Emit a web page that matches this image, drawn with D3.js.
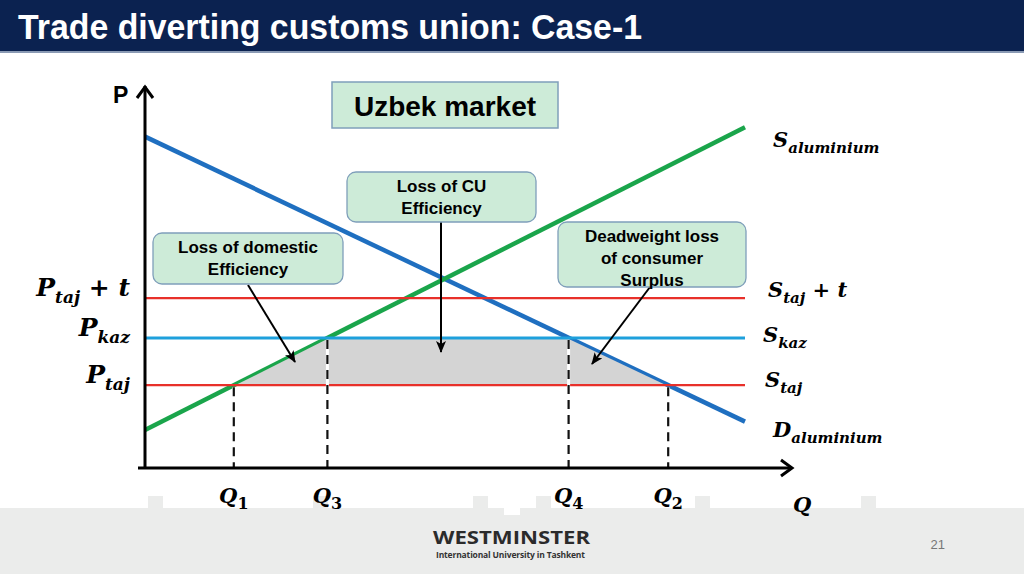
<!DOCTYPE html>
<html>
<head>
<meta charset="utf-8">
<script src="https://cdn.jsdelivr.net/npm/d3@7"></script>
<style>
  body { margin: 0; background: #fff; }
  svg { display: block; }
</style>
</head>
<body>
<svg id="chart" width="1024" height="574"></svg>
<script>
// chart values (price / quantity units)
const demandLine = [[0, 87.2], [100, 12.2]];
const supplyLine = [[0, 10], [100, 89.7]];
const priceLevels = [
  { id: "tajT", p: 44.7, color: "#e8302a", width: 2.2 },
  { id: "kaz", p: 34.2, color: "#1ea0dc", width: 3 },
  { id: "taj", p: 21.8, color: "#e8302a", width: 2.2 },
];
const qMarks = [
  { sub: "1", q: 14.8, p: 21.8 },
  { sub: "3", q: 30.4, p: 34.2 },
  { sub: "4", q: 70.6, p: 34.2 },
  { sub: "2", q: 87.2, p: 21.8 },
];
const lossArea = [[14.8, 21.8], [30.4, 34.2], [70.6, 34.2], [87.2, 21.8]];
const leftLabels = [
  { main: "P", sub: "taj", extra: " + t", p: 44.7 },
  { main: "P", sub: "kaz", extra: "", p: 34.2 },
  { main: "P", sub: "taj", extra: "", p: 21.8 },
];
const rightLabels = [
  { main: "S", sub: "aluminium", extra: "", x: 773, y: 147 },
  { main: "S", sub: "taj", extra: " + t", x: 768, y: 297 },
  { main: "S", sub: "kaz", extra: "", x: 763, y: 342 },
  { main: "S", sub: "taj", extra: "", x: 765, y: 387 },
  { main: "D", sub: "aluminium", extra: "", x: 773, y: 437 },
];
const boxes = [
  { lines: ["Loss of CU", "Efficiency"], x: 347, y: 172, w: 189, h: 50 },
  { lines: ["Loss of domestic", "Efficiency"], x: 153, y: 233, w: 190, h: 51 },
  { lines: ["Deadweight loss", "of consumer", "Surplus"], x: 558, y: 222, w: 188, h: 65 },
];
const arrows = [
  [[248, 285], [295, 362]],
  [[441, 222], [441, 352]],
  [[650, 287], [592, 364]],
];

const svg = d3.select("#chart");
const x = d3.scaleLinear().domain([0, 100]).range([145, 745]);
const y = d3.scaleLinear().domain([0, 100]).range([468, 88]);
const mathFont = "'DejaVu Serif', serif";

// background: title bar and footer band
svg.append("rect").attr("width", 1024).attr("height", 51).attr("fill", "#0b2250");
svg.append("rect").attr("y", 51).attr("width", 1024).attr("height", 2).attr("fill", "#8a9ab4");
svg.append("text")
  .attr("x", 18).attr("y", 39)
  .attr("fill", "#fff")
  .attr("font-family", "'Liberation Sans', Arial, sans-serif")
  .attr("font-weight", "bold")
  .attr("font-size", 35)
  .attr("textLength", 624)
  .attr("lengthAdjust", "spacingAndGlyphs")
  .text("Trade diverting customs union: Case-1");

const footer = svg.append("g").attr("fill", "#ebeceb");
footer.append("rect").attr("y", 508).attr("width", 1024).attr("height", 66);
[148, 313, 473, 536, 695, 861].forEach((tx) => {
  footer.append("rect").attr("x", tx).attr("y", 496).attr("width", 15).attr("height", 12);
});
svg.append("rect").attr("x", 504).attr("y", 508).attr("width", 16).attr("height", 7).attr("fill", "#fff");
svg.append("text")
  .attr("x", 433).attr("y", 544)
  .attr("fill", "#2b2b2b")
  .attr("font-family", "'Open Sans', sans-serif")
  .attr("font-weight", "bold")
  .attr("font-size", 18)
  .attr("textLength", 157)
  .attr("lengthAdjust", "spacingAndGlyphs")
  .text("WESTMINSTER");
svg.append("text")
  .attr("x", 436).attr("y", 558)
  .attr("fill", "#333")
  .attr("font-family", "'Open Sans', sans-serif")
  .attr("font-weight", "bold")
  .attr("font-size", 8.5)
  .attr("textLength", 149)
  .text("International University in Tashkent");
svg.append("text")
  .attr("x", 945).attr("y", 549)
  .attr("text-anchor", "end")
  .attr("fill", "#777")
  .attr("font-family", "'Liberation Sans', Arial, sans-serif")
  .attr("font-size", 13)
  .text("21");

const defs = svg.append("defs");
defs.append("marker")
  .attr("id", "head")
  .attr("viewBox", "0 0 12 10")
  .attr("refX", 11).attr("refY", 5)
  .attr("markerWidth", 12).attr("markerHeight", 10)
  .attr("markerUnits", "userSpaceOnUse")
  .attr("orient", "auto")
  .append("path")
  .attr("d", "M0,0 L12,5 L0,10 L3,5 Z")
  .attr("fill", "#000");

const line = d3.line().x((d) => x(d[0])).y((d) => y(d[1]));

// demand and supply curves
svg.append("path").datum(demandLine).attr("d", line)
  .attr("stroke", "#1f6fc0").attr("stroke-width", 4.5).attr("fill", "none");
svg.append("path").datum(supplyLine).attr("d", line)
  .attr("stroke", "#1aa54b").attr("stroke-width", 4.5).attr("fill", "none");

// welfare loss area, thin curve segments drawn over it
svg.append("path")
  .attr("d", line(lossArea) + "Z")
  .attr("fill", "#d4d4d4").attr("stroke", "none");
svg.append("path").datum([lossArea[0], lossArea[1]]).attr("d", line)
  .attr("stroke", "#1aa54b").attr("stroke-width", 1.6).attr("fill", "none");
svg.append("path").datum([lossArea[2], lossArea[3]]).attr("d", line)
  .attr("stroke", "#1f6fc0").attr("stroke-width", 1.6).attr("fill", "none");

// price lines
svg.selectAll(".price").data(priceLevels).join("line")
  .attr("class", "price")
  .attr("x1", x(0)).attr("x2", x(100))
  .attr("y1", (d) => y(d.p)).attr("y2", (d) => y(d.p))
  .attr("stroke", (d) => d.color)
  .attr("stroke-width", (d) => d.width);

// dashed quantity drops
svg.selectAll(".drop-bg").data(qMarks).join("line")
  .attr("class", "drop-bg")
  .attr("x1", (d) => x(d.q)).attr("x2", (d) => x(d.q))
  .attr("y1", (d) => y(d.p) + 2).attr("y2", y(0))
  .attr("stroke", "#fff").attr("stroke-width", 3);
svg.selectAll(".drop").data(qMarks).join("line")
  .attr("class", "drop")
  .attr("x1", (d) => x(d.q)).attr("x2", (d) => x(d.q))
  .attr("y1", (d) => y(d.p) + 2).attr("y2", y(0))
  .attr("stroke", "#111").attr("stroke-width", 2.2)
  .attr("stroke-dasharray", "9,6");

// axes
const axis = svg.append("g").attr("stroke", "#000").attr("fill", "none")
  .attr("stroke-width", 3).attr("stroke-linejoin", "miter");
axis.append("path").attr("d", `M${x(0)},${y(100) - 2} V${y(0)}`);
axis.append("path").attr("d", `M${x(0) - 7},${y(0)} H792`);
axis.append("path").attr("d", `M${x(0) - 8},${y(100) + 10} L${x(0)},${y(100) - 1} L${x(0) + 8},${y(100) + 10}`);
axis.append("path").attr("d", `M781,${y(0) - 8} L792,${y(0)} L781,${y(0) + 8}`);
svg.append("text").attr("x", 113).attr("y", 103)
  .attr("font-family", "'Liberation Sans', Arial, sans-serif")
  .attr("font-weight", "bold").attr("font-size", 23).text("P");

// math labels
function mathLabel(sel, d, size, subSize, anchor) {
  const t = sel.append("text")
    .attr("font-family", mathFont)
    .attr("font-style", "italic")
    .attr("font-weight", "bold")
    .attr("font-size", size)
    .attr("text-anchor", anchor)
    .attr("fill", "#000");
  t.append("tspan").text(d.main);
  t.append("tspan")
    .attr("font-size", subSize)
    .attr("font-style", /^\d+$/.test(d.sub) ? "normal" : "italic")
    .attr("dy", size * 0.28)
    .text(d.sub);
  if (d.extra) {
    t.append("tspan").attr("dy", -size * 0.28).attr("font-style", "normal").text(" +");
    t.append("tspan").text(" t");
  }
  return t;
}
leftLabels.forEach((d) => {
  mathLabel(svg, d, 25, 17, "end").attr("x", 130).attr("y", y(d.p) - 2);
});
rightLabels.forEach((d) => {
  mathLabel(svg, d, 21, 15, "start").attr("x", d.x).attr("y", d.y);
});
qMarks.forEach((d) => {
  mathLabel(svg, { main: "Q", sub: d.sub }, 21, 16, "middle")
    .attr("x", x(d.q)).attr("y", 503);
});
mathLabel(svg, { main: "Q", sub: "" }, 21, 16, "start").attr("x", 793).attr("y", 512);

// title box
svg.append("rect").attr("x", 332).attr("y", 82).attr("width", 226).attr("height", 46)
  .attr("fill", "#cdebd8").attr("stroke", "#7f9fba").attr("stroke-width", 1.5);
svg.append("text").attr("x", 445).attr("y", 116).attr("text-anchor", "middle")
  .attr("font-family", "'Liberation Sans', Arial, sans-serif")
  .attr("font-weight", "bold").attr("font-size", 28).text("Uzbek market");

// annotation arrows
svg.selectAll(".arrow").data(arrows).join("path")
  .attr("class", "arrow")
  .attr("d", (d) => d3.line()(d))
  .attr("stroke", "#000").attr("stroke-width", 2)
  .attr("marker-end", "url(#head)");

// callout boxes
const box = svg.selectAll(".box").data(boxes).join("g").attr("class", "box");
box.append("rect")
  .attr("x", (d) => d.x).attr("y", (d) => d.y)
  .attr("width", (d) => d.w).attr("height", (d) => d.h)
  .attr("rx", 9)
  .attr("fill", "#cdebd8").attr("stroke", "#7f9fba").attr("stroke-width", 1.3);
box.each(function (d) {
  const t = d3.select(this).append("text")
    .attr("text-anchor", "middle")
    .attr("font-family", "'Liberation Sans', Arial, sans-serif")
    .attr("font-weight", "bold").attr("font-size", 17);
  d.lines.forEach((l, i) => {
    t.append("tspan").attr("x", d.x + d.w / 2).attr("y", d.y + 20 + i * 22).text(l);
  });
});
</script>
</body>
</html>
